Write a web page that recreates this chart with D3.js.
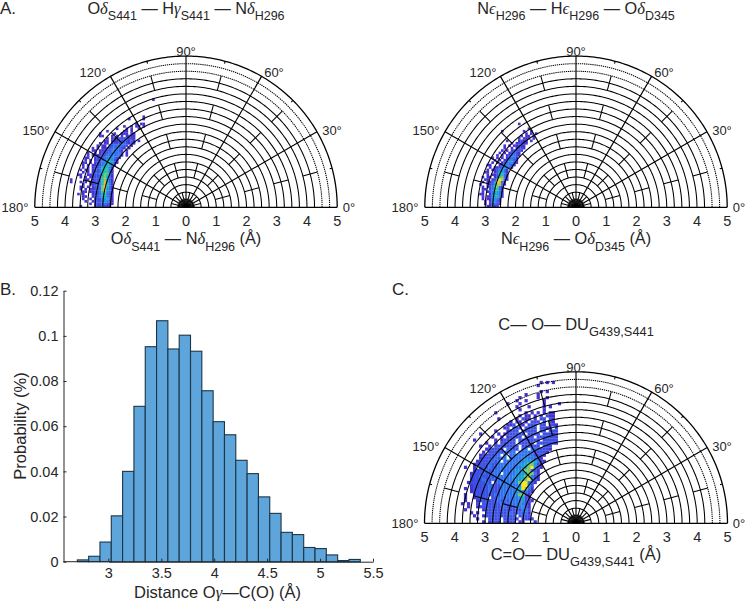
<!DOCTYPE html>
<html>
<head>
<meta charset="utf-8">
<script src="https://cdn.jsdelivr.net/npm/d3@7"></script>
<style>
html,body{margin:0;padding:0;background:#fff}
svg{display:block}
text{font-family:"Liberation Sans",sans-serif;fill:#262626}
</style>
</head>
<body>
<svg id="c" width="746" height="601"></svg>
<script>
// ---------- data ----------
const histValues = [0.0008,0.0024,0.0087,0.0203,0.0400,0.0688,0.0952,0.1067,0.0942,0.1003,0.0932,0.0757,0.0620,0.0562,0.0449,0.0390,0.0287,0.0214,0.0130,0.0120,0.0063,0.0058,0.0030,0.0005,0.0010];
const histStart = 2.7075, histBinWidth = 0.1069;
const histXTicks = [3,3.5,4,4.5,5,5.5];
const histYTicks = [0,0.02,0.04,0.06,0.08,0.1,0.12];
const angleTicks = [0,30,60,90,120,150,180];
const minorAngles = [15,45,75,105,135,165];
const radiusTicks = [5,4,3,2,1,0,1,2,3,4,5];
const circleRadii = d3.range(1,21).map(i=>i*0.25);
const minorSegments = [[0,0.5],[1,1.5],[2,2.5],[3,3.5],[4,4.5],[4.92,5]];
const levelColors = ["#4433cf","#3c50e4","#2f74ee","#1c97de","#0db2c4","#2cbf9c","#83c663","#d6be3c","#f8e621"];

// Density grids: index = row above the baseline, char = column, digit = density level
const gridA = [
"....1.....1223211",
"........1.12233211",
"......1..122234321",
".....1..1.12234531",
".....11..122345321",
"...1.1...122356321",
".....11.1122367331",
"....1.1.1122378431",
"....11.1.122379531",
".....1..1122368631",
"1...1.1.1122368531",
"1.....11.122367521",
"....1.1.1122367531",
"...11..11122357631",
".....1.1.122356631",
"....1.11.122356631",
".....1.1.122356531",
".....1.1.1122345531",
".....11.1.1223455421",
"......1.1.1223345421",
"......11..12223344321",
".......1.1112223333331.1",
".......1..1.1222333332.1",
".........11.1122233321.1",
".........1.1.1122333321.1",
"...........1.11.22333322.1",
"............1.11.1222332121",
"..............11.1112222131.1",
"...............1.1112222111",
"............11...1.1.1.1211",
"............1.....1..111.11",
"...............1......11.1",
"...................1...1.1..1",
"......................1..1.11.1",
"...........................1.11",
"",
"........................1.....1",
"..............................1",
"","","","","","",
"..................................1"
];
const gridB = [
".....11311",
"....1.12321",
"....1.13421",
"...1.113431",
"...1.1134531",
"..11..135431",
"...1.1235531",
"...11.236631",
"...1.1236731",
"..1..11247831",
"...1.11259831",
"....11.1269831",
"...1.11.126731",
".....1.1125631",
"....11..125531",
".....1.1124431",
"......1.11234321",
".....11...1234321",
".......1.1.1233421",
"........1.1.123421",
".......1.1.1.12331",
".........1.1.123321",
"..........1.1.12321",
"...........1.1.12221",
"............1..1.1221",
"............1.1.11211",
"...............1.12111",
".............1....1211.1",
"..................1.111.1",
"...................1.11.1",
".....................1.1.1",
"...........1........1..1",
"......................1",
"",
"..................1"
];
const gridC = [
"...............1.1221.2122.12...1",
".............1...2222.22222.1212",
"............1..12222222222.2222",
"...........1.1..222222223223231",
".........1.....1222222222222332",
"..........1..122222222322233421",
"........1.1..2.2222223232334321",
".........1...1222222323233334221",
".........1..12222.2233233334521",
".........1..1222222323333347721",
"...........122222322233333443321",
".........1.122222322233333459731",
"...........122222322233333349942",
"..........12222232.23333334799321",
"...........12223223233333344579521",
"...........22232232333333444577321",
"...........1222322333.333344457731",
"............1222322333333344577321",
".........1..1.222322333333334579421",
"............12222322333333344577421",
".............12222323.33333334455321",
"..............122223233.33334433321",
"..............1222223.3.333333332221",
"...............1.222223233.3333322221",
"................122222.3222.23.3322221",
"..............1..1.22222222.222222.222",
"................1..1.22222.22222.2222221",
"............1......1.12222.2222222.22222",
"..................1..1.12222.222.2222222",
"..............1.....1.1222222.2222.22212",
"...................1...1222.22222.22.222",
"......................12.222.2222.2212.2",
".......................112.21.222.22.221",
"........................1.21.1.222.1.21",
"....................1.....1.211.1.22.21",
"...........................1.11.1.2.211",
"...................1.........1.1.1.1.11",
"...........................1.......1",
"..........................1...1....1.1",
".......................1...1.......1....1",
"..........................1..1.....1",
"...........................1.....1..1",
".............................1...1",
"..................................1.1",
"",
".................................1",
"..................................1.1.1"
];

// ---------- layout ----------
const svg = d3.select("#c");
const labelOffsets = {0:[163,0],30:[146,-77],60:[88,-135],90:[0,-156],120:[-93,-135],150:[-150,-77],180:[-171,0]};
const panels = [
 {cx:186,cy:207.3,r:151.2,grid:gridA,x0:-3.84,bin:0.08},
 {cx:576,cy:207.3,r:151.2,grid:gridB,x0:-3.36,bin:0.08},
 {cx:576,cy:523.3,r:151.5,grid:gridC,x0:-4.6,bin:0.1}
];
const levelScale = d3.scaleLinear().domain(d3.range(1,10)).range(levelColors);

function polar(p){
  const g = svg.append("g");
  const x = d3.scaleLinear().domain([-5,5]).range([p.cx-p.r,p.cx+p.r]);
  const y = d3.scaleLinear().domain([0,5]).range([p.cy,p.cy-p.r]);
  const cells=[];
  p.grid.forEach((row,k)=>{ [...row].forEach((ch,c)=>{ if(ch!=="."){cells.push({c,k,v:+ch});}});});
  g.append("g").selectAll("rect").data(cells).join("rect")
    .attr("x",d=>x(p.x0+d.c*p.bin)).attr("y",d=>y((d.k+1)*p.bin))
    .attr("width",x(p.bin)-x(0)+0.2).attr("height",y(0)-y(p.bin)+0.2)
    .attr("fill",d=>levelScale(d.v));
  const pt=(a,r)=>[x(r*Math.cos(a*Math.PI/180)),y(r*Math.sin(a*Math.PI/180))];
  const arc=d3.line().curve(d3.curveLinear);
  circleRadii.forEach(r=>{
    const pts=d3.range(0,181,1).map(a=>pt(a,r));
    g.append("path").attr("d",arc(pts)).attr("fill","none")
     .attr("stroke","#000")
     .attr("stroke-width",r===5?1.3:1.05)
     .attr("stroke-dasharray",r>=4.5&&r<5?"1.3 0.8":null);
  });
  angleTicks.forEach(a=>{
    const [a0,a1]=pt(a,0),[b0,b1]=pt(a,5);
    g.append("line").attr("x1",a0).attr("y1",a1).attr("x2",b0).attr("y2",b1).attr("stroke","#000").attr("stroke-width",a===0||a===180?1.3:1.15);
  });
  minorAngles.forEach(a=>minorSegments.forEach(s=>{
    const [a0,a1]=pt(a,s[0]),[b0,b1]=pt(a,s[1]);
    g.append("line").attr("x1",a0).attr("y1",a1).attr("x2",b0).attr("y2",b1).attr("stroke","#000").attr("stroke-width",1.05);
  }));
  // dense fan at the origin
  d3.range(7.5,180,15).forEach(a=>{
    const [b0,b1]=pt(a,0.3),[a0,a1]=pt(a,0);
    g.append("line").attr("x1",a0).attr("y1",a1).attr("x2",b0).attr("y2",b1).attr("stroke","#000").attr("stroke-width",0.9);
  });
  // radial tick labels
  radiusTicks.forEach((t,i)=>{
    g.append("text").attr("x",x(i-5)).attr("y",p.cy+18.5).attr("text-anchor","middle").attr("font-size",14.5).text(t);
  });
  angleTicks.forEach(a=>{
    const o=labelOffsets[a];
    g.append("text").attr("x",p.cx+o[0]).attr("y",p.cy+o[1]+4.5).attr("text-anchor","middle").attr("font-size",13).text(a+"°");
  });
}
panels.forEach(polar);

// rich text: each part = [string, style]; style n normal, g greek italic, s subscript
function rich(cx,base,parts,size,subSize,drop){
  const t=svg.append("text").attr("x",cx).attr("y",base).attr("text-anchor","middle").attr("font-size",size);
  let cur=0;
  parts.forEach(([s,st])=>{
    const ts=t.append("tspan").text(s);
    const target = st==="s"?drop:0;
    ts.attr("dy",target-cur); cur=target;
    if(st==="s") ts.attr("font-size",subSize);
    if(st==="g") ts.style("font-family","'Liberation Serif',serif").style("font-style","italic").attr("font-size",size*1.02);
  });
}
rich(186,13.5,[["O","n"],["δ","g"],["S441","s"],[" — H","n"],["γ","g"],["S441","s"],[" — N","n"],["δ","g"],["H296","s"]],16.3,12.5,6.5);
rich(576,13.5,[["N","n"],["ϵ","g"],["H296","s"],[" — H","n"],["ϵ","g"],["H296","s"],[" — O","n"],["δ","g"],["D345","s"]],16.3,12.5,6.5);
rich(576,329.5,[["C— O— DU","n"],["G439,S441","s"]],16.5,12.8,6.5);
rich(186,244,[["O","n"],["δ","g"],["S441","s"],[" — N","n"],["δ","g"],["H296","s"],[" (Å)","n"]],16.3,12.5,6.5);
rich(576,244,[["N","n"],["ϵ","g"],["H296","s"],[" — O","n"],["δ","g"],["D345","s"],[" (Å)","n"]],16.3,12.5,6.5);
rich(576,559.5,[["C=O— DU","n"],["G439,S441","s"],[" (Å)","n"]],16.5,12.8,6.5);

[["A.",0,14],["B.",0,295],["C.",392,295]].forEach(([s,x,y])=>{
  svg.append("text").attr("x",x).attr("y",y).attr("font-size",17).text(s);
});

// ---------- histogram ----------
const hx=d3.scaleLinear().domain([3,5.5]).range([108.3,373]);
const hy=d3.scaleLinear().domain([0,0.12]).range([561.7,290.7]);
const hg=svg.append("g");
hg.selectAll("rect").data(histValues).join("rect")
  .attr("x",(d,i)=>hx(histStart+i*histBinWidth))
  .attr("y",d=>hy(d))
  .attr("width",hx(histBinWidth)-hx(0))
  .attr("height",d=>hy(0)-hy(d))
  .attr("fill","#5da5da").attr("stroke","#1d3547").attr("stroke-width",1.1);
const ax=g=>{g.select(".domain").attr("stroke","#262626");g.selectAll("line").attr("stroke","#262626");g.selectAll("text").style("fill","#262626").attr("font-family","Liberation Sans").attr("font-size",14.5);};
svg.append("g").attr("transform","translate(0,561.7)")
  .call(d3.axisBottom(hx).tickValues(histXTicks).tickSize(-3).tickSizeOuter(0).tickPadding(6).tickFormat(d3.format("~g")))
  .call(ax);
svg.append("path").attr("d","M63.5,561.7H108").attr("stroke","#262626");
svg.append("g").attr("transform","translate(63.5,0)")
  .call(d3.axisLeft(hy).tickValues(histYTicks).tickSize(-3).tickSizeOuter(0).tickPadding(5).tickFormat(d3.format("~g")))
  .call(ax);
svg.append("text").attr("transform","translate(26,426) rotate(-90)").attr("text-anchor","middle").attr("font-size",16.5).text("Probability (%)");
const xl=svg.append("text").attr("x",217.5).attr("y",597.5).attr("text-anchor","middle").attr("font-size",16.5);
xl.append("tspan").text("Distance O");
xl.append("tspan").text("γ").style("font-family","'Liberation Serif',serif").style("font-style","italic");
xl.append("tspan").text("—C(O) (Å)");
</script>
</body>
</html>
